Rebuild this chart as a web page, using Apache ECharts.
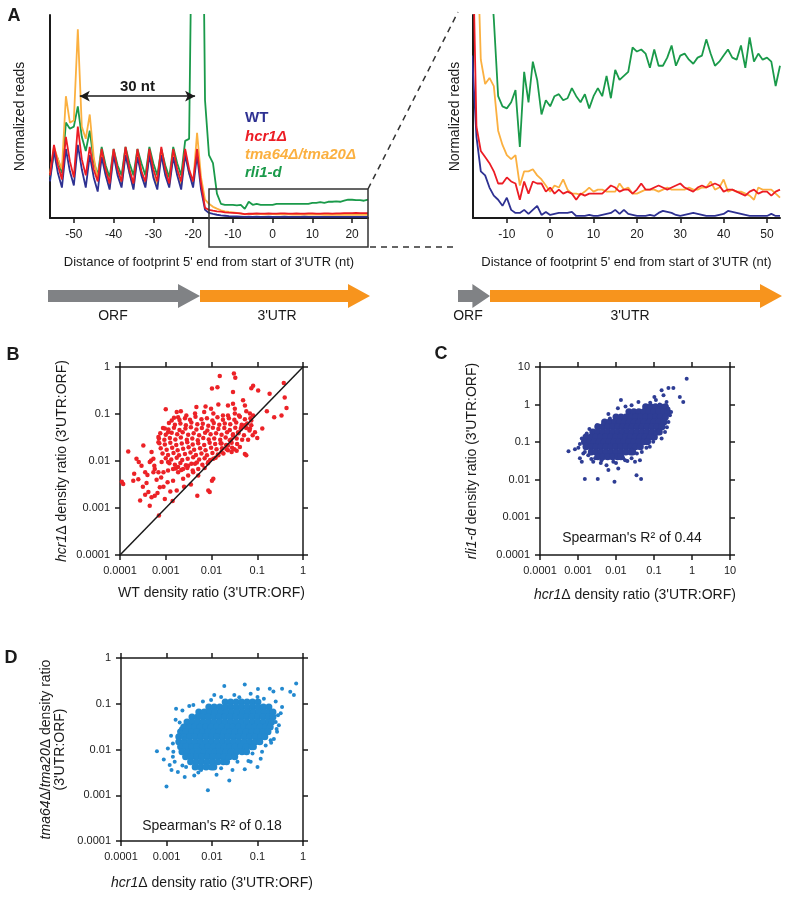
<!DOCTYPE html>
<html>
<head>
<meta charset="utf-8">
<script src="https://cdn.jsdelivr.net/npm/echarts@6.0.0/dist/echarts.min.js"></script>
<style>
  html, body { margin: 0; padding: 0; background: #fff; }
  #main { width: 800px; height: 900px; }
</style>
</head>
<body>
<div id="main"></div>
<script>
// ---------------- Panel A: footprint profiles (plot height = 0..100) ----------------
const ntLeft = []   // -56 .. 24
for (let i = -56; i <= 24; i++) ntLeft.push(i)
const ntRight = []  // -18 .. 53
for (let i = -18; i <= 53; i++) ntRight.push(i)

const ntTicksLeft = [-50, -40, -30, -20, -10, 0, 10, 20]
const ntTicksRight = [-10, 0, 10, 20, 30, 40, 50]

const wtLeft = [18,33,22,15,34,23,16,36,24,15, 31,20,13,30,21,14,31,21,15,31, 22,14,30,21,15,31,20,14,31,21,
  15,30,21,14,31,22,15,31,14,4, 2.5,2,1.6,1.3,1.1,0.9,0.8,0.8,0.7,0.6,
  0.7,0.6,0.7,0.6,0.6,0.7,0.6,0.6,0.6,0.7, 0.6,0.6,0.6,0.6,0.7,0.6,0.6,0.6,0.6,0.6,
  0.6,0.6,0.6,0.6,0.6,0.6,0.6,0.6,0.6,0.6, 0.6]
const hcr1Left = [21,36,26,19,40,28,20,45,29,21, 35,24,18,34,24,17,34,24,18,35, 24,17,34,23,18,34,24,18,35,24,
  17,34,24,18,34,24,18,34,17,5, 4,3.6,3.3,3.1,2.8,2.6,2.5,2.4,2.3,1.9,
  2.2,2.1,2.3,2.2,2.2,2.3,2.2,2.2,2.3,2.3, 2.2,2.2,2.3,2.2,2.2,2.3,2.3,2.2,2.2,2.3,
  2.3,2.2,2.3,2.3,2.4,2.4,2.4,2.5,2.4,2.4, 2.4]
const tmaLeft = [22,35,29,24,60,47,48,93,45,39, 51,30,19,33,22,15,33,22,16,32, 22,15,32,22,16,32,21,16,33,22,
  16,33,22,16,33,22,17,42,20,9, 7,5.5,4.6,3.8,3.3,3,2.8,2.5,2.2,1.8,
  2,1.9,2,1.9,1.8,1.9,1.9,1.8,1.8,1.8, 1.8,1.7,1.8,1.7,1.7,1.7,1.7,1.7,1.7,1.6,
  1.7,1.6,1.6,1.6,1.6,1.6,1.6,1.6,1.6,1.6, 1.6]
const rli1Left = [20,33,29,22,47,44,45,55,40,33, 43,28,21,35,26,20,34,26,21,35, 27,21,34,27,21,35,27,21,34,26,
  20,35,27,21,38,39,200,260,250,58, 31,27,12,7,6.5,6.5,6.5,6.2,6.5,4.5,
  8,6.5,7,6.5,6.5,6.5,6.5,7,7,7, 7,7,7,7,7,7,7.5,7.5,7.8,7.5,
  8,8,8.2,8,8.5,9,9,8.8,8.8,8.5, 9]

const wtRight = [80,40,23,21,15,11,9,6,10,4, 2.5,2.5,4,2,4,6,1.5,3,1.5,2, 2.5,2.5,2.5,3,1,1,1,1.5,1,1,
  1.5,2,2.5,4,2,4,2,1.5,1,1, 1,1.5,1,2.5,3.5,3,2.5,1.5,1,1.5, 2,2.5,2,1.5,1,1,1,1.5,2,3.5,
  3,2.5,2,1.5,1,1,1,1,1,2, 1,1]
const hcr1Right = [150,45,33,30,27,23,17,17,20,18, 17,9,18,12,18,17,17,13,15,12, 14,12,13,12,9,12,11,12,12,12,
  12,14,16,15,13,14,14,12,14,17, 14,14,15,16,15,14,15,16,17,15, 14,13,15,16,15,16,17,16,13,14,
  14,13,12,11,13,14,12,13,13,11, 13,14]
const tmaRight = [300,150,78,66,69,65,43,36,31,29, 31,16,23,23,24,21,19,16,13,16, 15,19,14,12,12,11.5,13,15,13,14,
  14,13,13,13,17,14,15,12,12,13, 14,14,14,13,14,15,14,14,14,14, 15,14,14,15,15,18,14,15,19,13,
  14,13,13,12,11,9,15,14,14,14, 12,10]
const rli1Right = [500,400,300,200,130,98,60,55,54,57, 63,35,72,57,77,68,51,58,55,60, 61,58,59,64,60,57,61,54,60,64,
  60,70,59,73,68,70,72,84,82,83, 81,74,83,75,75,79,85,75,80,81, 78,76,79,80,88,81,75,77,80,83,
  79,78,85,74,89,77,81,78,79,77, 65,75]

// ---------------- Panels B-D: density ratios, stored as log10 exponents ----------------
const decadeValues = [-4, -3, -2, -1, 0, 1]
const decadeLabels = ['0.0001', '0.001', '0.01', '0.1', '1', '10']

// B: WT (x) vs hcr1Δ (y)
const pointsB = [
  [-2.82,-1.08],[-2.70,-1.13],[-2.58,-1.09],[-2.47,-1.12],[-2.35,-1.06],[-2.22,-1.11],[-2.10,-1.09],[-1.98,-1.14],[-1.87,-1.07],[-1.75,-1.12],[-1.62,-1.09],[-1.50,-1.12],[-1.38,-1.06],[-1.27,-1.11],[-1.15,-1.09],
  [-2.93,-1.19],[-2.80,-1.23],[-2.68,-1.20],[-2.56,-1.24],[-2.44,-1.18],[-2.31,-1.22],[-2.19,-1.21],[-2.07,-1.25],[-1.95,-1.19],[-1.83,-1.23],[-1.71,-1.20],[-1.59,-1.22],[-1.46,-1.18],[-1.34,-1.23],[-1.22,-1.20],[-1.13,-1.24],
  [-3.06,-1.30],[-2.94,-1.33],[-2.82,-1.29],[-2.70,-1.34],[-2.57,-1.31],[-2.45,-1.28],[-2.33,-1.33],[-2.21,-1.30],[-2.09,-1.35],[-1.97,-1.29],[-1.85,-1.32],[-1.72,-1.30],[-1.60,-1.34],[-1.48,-1.29],[-1.36,-1.32],[-1.24,-1.30],[-1.17,-1.35],
  [-3.12,-1.41],[-3.00,-1.44],[-2.87,-1.40],[-2.75,-1.43],[-2.63,-1.39],[-2.51,-1.44],[-2.39,-1.41],[-2.27,-1.45],[-2.14,-1.40],[-2.02,-1.43],[-1.90,-1.41],[-1.78,-1.44],[-1.66,-1.39],[-1.53,-1.43],[-1.41,-1.41],[-1.29,-1.45],
  [-3.15,-1.52],[-3.03,-1.55],[-2.91,-1.51],[-2.79,-1.54],[-2.67,-1.50],[-2.54,-1.55],[-2.42,-1.52],[-2.30,-1.56],[-2.18,-1.51],[-2.06,-1.54],[-1.94,-1.52],[-1.81,-1.55],[-1.69,-1.50],[-1.57,-1.54],[-1.45,-1.52],[-1.33,-1.55],
  [-3.14,-1.62],[-3.02,-1.65],[-2.90,-1.61],[-2.77,-1.66],[-2.65,-1.63],[-2.53,-1.60],[-2.41,-1.65],[-2.29,-1.62],[-2.16,-1.66],[-2.04,-1.61],[-1.92,-1.64],[-1.80,-1.62],[-1.68,-1.66],[-1.56,-1.61],[-1.44,-1.64],
  [-3.11,-1.73],[-2.98,-1.76],[-2.86,-1.72],[-2.74,-1.77],[-2.62,-1.74],[-2.50,-1.71],[-2.38,-1.76],[-2.25,-1.73],[-2.13,-1.77],[-2.01,-1.72],[-1.89,-1.75],[-1.77,-1.73],[-1.64,-1.77],[-1.55,-1.72],
  [-3.07,-1.84],[-2.95,-1.87],[-2.83,-1.83],[-2.71,-1.88],[-2.58,-1.85],[-2.46,-1.82],[-2.34,-1.87],[-2.22,-1.84],[-2.10,-1.88],[-1.98,-1.83],[-1.86,-1.86],[-1.74,-1.84],
  [-3.00,-1.94],[-2.88,-1.97],[-2.76,-1.93],[-2.64,-1.98],[-2.52,-1.95],[-2.40,-1.92],[-2.27,-1.97],[-2.15,-1.94],[-2.03,-1.98],[-1.91,-1.93],
  [-2.92,-2.05],[-2.80,-2.08],[-2.68,-2.04],[-2.56,-2.09],[-2.44,-2.06],[-2.32,-2.03],[-2.20,-2.08],[-2.08,-2.05],
  [-2.78,-2.16],[-2.66,-2.19],[-2.53,-2.15],[-2.41,-2.20],[-2.29,-2.17],
  [-1.82,-0.19],[-1.51,-0.14],[-1.48,-0.23],[-1.99,-0.46],[-1.87,-0.43],[-1.53,-0.53],[-1.09,-0.40],[-1.13,-0.45],[-0.98,-0.50],[-0.42,-0.34],
  [-0.73,-0.57],[-0.40,-0.65],[-0.36,-0.87],[-0.47,-1.03],[-0.63,-1.07],[-0.79,-0.94],[-0.89,-1.31],[-1.00,-1.51],[-1.05,-1.39],[-1.16,-1.31],
  [-3.00,-0.90],[-2.67,-0.94],[-2.76,-0.96],[-2.33,-0.85],[-2.13,-0.84],[-2.01,-0.89],[-1.85,-0.80],[-1.64,-0.82],[-1.49,-0.89],[-1.31,-0.71],[-1.27,-0.82],[-1.53,-0.78],
  [-3.82,-1.80],[-3.96,-2.44],[-3.93,-2.49],[-3.49,-1.67],[-3.69,-2.27],[-3.71,-2.42],[-3.60,-2.39],[-3.45,-2.24],[-3.53,-2.10],[-3.59,-2.02],
  [-3.35,-2.02],[-3.32,-1.99],[-3.27,-1.95],[-3.42,-2.47],[-3.38,-2.66],[-3.45,-2.72],[-3.56,-2.84],[-3.35,-2.95],[-3.15,-3.16],[-3.24,-2.74],
  [-3.31,-2.77],[-3.18,-2.68],[-3.02,-2.81],[-3.13,-2.56],[-2.96,-2.45],[-2.76,-2.63],[-2.84,-2.42],[-2.73,-2.24],[-2.31,-2.74],[-2.07,-2.63],
  [-2.04,-2.66],[-1.99,-2.42],[-1.96,-2.38],[-2.29,-2.31],[-2.15,-2.15],[-2.40,-2.24],[-2.51,-2.31],[-2.62,-2.38],[-1.27,-1.85],[-1.24,-1.88],
  [-1.45,-1.78],[-1.56,-1.81],[-1.67,-1.75],[-1.78,-1.63],[-3.64,-1.95],[-3.31,-1.81],[-3.16,-1.60],[-3.16,-1.49],[-2.95,-1.39],[-3.02,-1.31],
  [-3.05,-2.24],[-3.16,-2.24],[-3.24,-2.17],[-3.27,-2.24],[-3.09,-2.02],[-2.95,-2.02],[-2.95,-2.20],[-2.84,-2.17],[-2.73,-2.13],[-2.62,-2.17],
  [-2.51,-2.10],[-2.36,-2.06],[-2.07,-2.02],[-1.96,-1.95],[-1.85,-1.88],[-1.78,-1.81],[-1.64,-1.67],[-1.60,-1.56],[-1.53,-1.46],[-1.42,-1.39],
  [-1.35,-1.28],[-1.27,-1.24],[-1.13,-1.14],[-1.09,-1.03],[-1.16,-0.99],[-1.24,-0.94],[-1.40,-1.03],[-1.49,-0.99],[-1.64,-1.03],[-1.75,-1.03],
  [-1.96,-0.99],[-2.16,-0.96],[-2.36,-0.99],[-2.55,-1.03],[-2.73,-1.07],[-2.87,-1.14],
  [-3.40,-2.30],[-3.20,-2.40],[-3.05,-2.55],[-2.90,-2.65],[-2.60,-2.55],[-2.45,-2.50],[-3.50,-2.55],[-2.85,-2.85],[-3.25,-2.10],[-3.10,-2.35],
  [-1.38,-1.70],[-1.50,-1.75],[-1.20,-1.55],[-1.10,-1.45]
]
const diagonalB = [[-4, -4], [0, 0]]

// C: hcr1Δ (x) vs rli1-d (y); dense core given as rows [y, [x...]]
const coreRowsC = [
  [-0.06, [-1.22,-1.09,-0.96,-0.83,-0.70]],
  [-0.19, [-1.66,-1.53,-1.40,-1.27,-1.14,-1.01,-0.88,-0.75,-0.64]],
  [-0.33, [-2.00,-1.87,-1.74,-1.61,-1.48,-1.35,-1.22,-1.09,-0.96,-0.83,-0.70]],
  [-0.46, [-2.30,-2.17,-2.04,-1.91,-1.78,-1.65,-1.52,-1.39,-1.26,-1.13,-1.00,-0.87,-0.74]],
  [-0.59, [-2.48,-2.35,-2.22,-2.09,-1.96,-1.83,-1.70,-1.57,-1.44,-1.31,-1.18,-1.05,-0.92,-0.79]],
  [-0.73, [-2.61,-2.48,-2.35,-2.22,-2.09,-1.96,-1.83,-1.70,-1.57,-1.44,-1.31,-1.18,-1.05,-0.92,-0.86]],
  [-0.86, [-2.79,-2.66,-2.53,-2.40,-2.27,-2.14,-2.01,-1.88,-1.75,-1.62,-1.49,-1.36,-1.23,-1.10,-0.99]],
  [-0.99, [-2.83,-2.70,-2.57,-2.44,-2.31,-2.18,-2.05,-1.92,-1.79,-1.66,-1.53,-1.40,-1.27,-1.17]],
  [-1.12, [-2.79,-2.66,-2.53,-2.40,-2.27,-2.14,-2.01,-1.88,-1.75,-1.62,-1.49,-1.36]],
  [-1.26, [-2.65,-2.52,-2.39,-2.26,-2.13,-2.00,-1.87,-1.74,-1.61,-1.56]],
  [-1.39, [-2.48,-2.35,-2.22,-2.09,-1.96,-1.87]]
]
const outerC = [
  [-0.14,0.69],[-0.62,0.44],[-0.49,0.44],[-0.80,0.38],[-0.75,0.25],[-0.99,0.20],[-0.32,0.20],[-0.23,0.07],[-0.67,0.07],[-0.62,-0.11],
  [-0.58,-0.28],[-0.62,-0.46],[-0.71,-0.73],[-0.97,-0.77],[-1.02,-0.99],[-1.11,-1.12],[-1.32,-1.26],[-1.37,-1.48],[-1.50,-1.52],[-1.87,0.12],
  [-1.59,-0.02],[-1.41,0.07],[-2.16,-0.37],[-2.33,-0.50],[-2.77,-0.77],[-3.25,-1.24],[-3.08,-1.19],[-2.99,-1.15],[-2.95,-1.43],[-2.90,-1.52],
  [-2.86,-1.30],[-2.60,-1.52],[-2.38,-1.48],[-2.25,-1.61],[-2.20,-1.74],[-2.07,-1.52],[-1.94,-1.70],[-1.76,-1.48],[-2.82,-1.98],[-2.48,-1.98],
  [-2.04,-2.05],[-1.46,-1.88],[-1.34,-1.98],[-1.59,-1.43],[-2.55,-1.43],[-2.73,-1.35],[-2.82,-1.26],[-1.81,-1.43],
  [-1.10,0.05],[-0.95,0.12],[-0.85,0.00],[-0.55,-0.20],[-0.66,-0.60],[-0.80,-0.90],[-1.20,-1.15],[-1.45,-1.30],[-1.70,-1.50],[-2.00,-1.55],
  [-2.40,-1.55],[-2.65,-1.45],[-2.95,-1.05],[-2.90,-0.90],[-2.70,-0.65],[-2.50,-0.55],[-2.20,-0.25],[-1.95,-0.10],[-1.75,-0.05]
]

// D: hcr1Δ (x) vs tma64Δ/tma20Δ (y)
const coreRowsD = [
  [-0.96, [-1.71,-1.59,-1.47,-1.35,-1.23,-1.11,-0.99]],
  [-1.07, [-2.07,-1.95,-1.83,-1.71,-1.59,-1.47,-1.35,-1.23,-1.11,-0.99,-0.87,-0.75]],
  [-1.18, [-2.29,-2.17,-2.05,-1.93,-1.81,-1.69,-1.57,-1.45,-1.33,-1.21,-1.09,-0.97,-0.85,-0.73,-0.66]],
  [-1.29, [-2.44,-2.32,-2.20,-2.08,-1.96,-1.84,-1.72,-1.60,-1.48,-1.36,-1.24,-1.12,-1.00,-0.88,-0.76,-0.66]],
  [-1.40, [-2.55,-2.43,-2.31,-2.19,-2.07,-1.95,-1.83,-1.71,-1.59,-1.47,-1.35,-1.23,-1.11,-0.99,-0.87,-0.75,-0.69]],
  [-1.51, [-2.62,-2.50,-2.38,-2.26,-2.14,-2.02,-1.90,-1.78,-1.66,-1.54,-1.42,-1.30,-1.18,-1.06,-0.94,-0.82,-0.72]],
  [-1.61, [-2.69,-2.57,-2.45,-2.33,-2.21,-2.09,-1.97,-1.85,-1.73,-1.61,-1.49,-1.37,-1.25,-1.13,-1.01,-0.89,-0.77]],
  [-1.72, [-2.73,-2.61,-2.49,-2.37,-2.25,-2.13,-2.01,-1.89,-1.77,-1.65,-1.53,-1.41,-1.29,-1.17,-1.05,-0.93,-0.84]],
  [-1.83, [-2.73,-2.61,-2.49,-2.37,-2.25,-2.13,-2.01,-1.89,-1.77,-1.65,-1.53,-1.41,-1.29,-1.17,-1.05,-0.95]],
  [-1.94, [-2.69,-2.57,-2.45,-2.33,-2.21,-2.09,-1.97,-1.85,-1.73,-1.61,-1.49,-1.37,-1.25,-1.13,-1.09]],
  [-2.05, [-2.66,-2.54,-2.42,-2.30,-2.18,-2.06,-1.94,-1.82,-1.70,-1.58,-1.46,-1.34,-1.24]],
  [-2.16, [-2.58,-2.46,-2.34,-2.22,-2.10,-1.98,-1.86,-1.74,-1.62,-1.50]],
  [-2.27, [-2.47,-2.35,-2.23,-2.11,-1.99,-1.87,-1.75,-1.68]],
  [-2.38, [-2.37,-2.25,-2.13,-2.01,-1.96]]
]
const outerD = [
  [-0.15,-0.56],[-0.28,-0.74],[-0.20,-0.81],[-0.46,-0.67],[-0.65,-0.73],[-0.73,-0.67],[-0.99,-0.68],[-1.28,-0.58],[-1.73,-0.61],[-2.02,-0.92],
  [-2.41,-1.03],[-2.79,-1.11],[-2.71,-1.41],[-2.68,-1.54],[-2.60,-1.76],[-2.86,-1.87],[-2.97,-1.98],[-3.21,-2.04],[-3.06,-2.22],[-2.93,-2.34],
  [-2.89,-2.45],[-2.75,-2.49],[-3.00,-2.81],[-2.60,-2.60],[-2.39,-2.57],[-2.09,-2.89],[-1.62,-2.68],[-1.28,-2.43],[-1.15,-2.27],[-0.93,-2.20],
  [-1.00,-2.38],[-0.71,-1.80],[-0.64,-1.77],[-0.57,-1.61],[-0.53,-1.47],[-0.49,-1.21],[-0.46,-1.07],[-2.86,-2.16],[-2.82,-2.27],[-2.57,-2.38],
  [-2.24,-2.45],[-1.80,-2.41],[-1.44,-2.27],[-1.11,-2.09],[-0.82,-1.91],[-0.60,-1.40],[-1.95,-0.81],[-1.51,-0.81],[-1.15,-0.78],[-0.86,-0.89],
  [-2.31,-1.29],
  [-2.50,-1.05],[-2.20,-0.95],[-1.80,-0.85],[-1.40,-0.86],[-1.00,-0.85],[-0.60,-0.95],[-0.55,-1.25],[-0.58,-1.55],[-0.70,-1.85],[-0.90,-2.05],
  [-1.20,-2.25],[-1.55,-2.45],[-1.90,-2.55],[-2.30,-2.50],[-2.65,-2.35],[-2.85,-2.05],[-2.90,-1.70],[-2.80,-1.35],[-2.65,-1.15]
]

// ---------------- helpers ----------------
const FONT = '"Liberation Sans", Arial, sans-serif'
const INK = '#1a1a1a'

const rowsToPoints = rows => rows.flatMap(([y, xs]) => xs.map(x => [x, y]))
const zip = (xs, ys) => xs.map((x, i) => [x, ys[i]])
const decadeText = v => decadeLabels[decadeValues.indexOf(Math.round(v))]

const titleStyle = {
  fontSize: 14, color: INK, fontFamily: FONT,
  rich: { i: { fontSize: 14, fontStyle: 'italic', color: INK, fontFamily: FONT } }
}

function profileX(gridIndex, min, max, ticks) {
  return {
    gridIndex, type: 'value', min, max,
    axisLine: { show: true, onZero: false, lineStyle: { color: INK, width: 2 } },
    axisTick: { show: true, length: 5, customValues: ticks, lineStyle: { color: INK, width: 1.5 } },
    axisLabel: { customValues: ticks, fontSize: 12, color: INK, margin: 11, fontFamily: FONT },
    splitLine: { show: false },
    name: 'Distance of footprint 5\' end from start of 3\'UTR (nt)',
    nameLocation: 'middle', nameGap: 38,
    nameTextStyle: { fontSize: 13, color: INK, fontFamily: FONT }
  }
}
function profileY(gridIndex, nameGap) {
  return {
    gridIndex, type: 'value', min: 0, max: 100,
    axisLine: { show: true, onZero: false, lineStyle: { color: INK, width: 2 } },
    axisTick: { show: false }, axisLabel: { show: false }, splitLine: { show: false },
    name: 'Normalized reads', nameLocation: 'middle', nameGap,
    nameTextStyle: { fontSize: 14, color: INK, fontFamily: FONT }
  }
}
function decadeAxis(gridIndex, position, min, max, name, nameGap) {
  return {
    gridIndex, position, type: 'value', min, max, interval: 1,
    axisLine: { show: true, onZero: false, lineStyle: { color: INK, width: 1.5 } },
    axisTick: { show: true, inside: false, length: 5, lineStyle: { color: INK, width: 1.5 } },
    axisLabel: { show: !!name, fontSize: 11, color: INK, margin: 10, fontFamily: FONT, formatter: decadeText },
    splitLine: { show: false },
    name: name || '', nameLocation: 'middle', nameGap: nameGap || 0, nameTextStyle: titleStyle
  }
}
function profileLine(name, xi, xs, ys, color) {
  return {
    name, type: 'line', xAxisIndex: xi, yAxisIndex: xi, data: zip(xs, ys),
    showSymbol: false, clip: true, lineStyle: { color, width: 1.8 }, itemStyle: { color }
  }
}
function scatter(idx, data, color, size) {
  return { type: 'scatter', xAxisIndex: idx, yAxisIndex: idx, data, symbolSize: size, itemStyle: { color, opacity: 1 } }
}

const colWT = '#2e3192', colHcr1 = '#ec1c24', colTma = '#fbb040', colRli1 = '#1a9a4a'
const colArrowGrey = '#808285', colArrowOrange = '#f7941d'

function txt(text, x, y, opts) {
  return {
    type: 'text', x, y, z: 100,
    style: Object.assign({ text, fill: INK, fontSize: 14, fontFamily: FONT, textAlign: 'center', textVerticalAlign: 'middle' }, opts || {})
  }
}
function arrow(x0, x1, color) {
  // horizontal block arrow with its tip at x1
  const head = Math.min(22, (x1 - x0) * 0.55)
  return {
    type: 'polygon', z: 10,
    shape: { points: [[x0, 290], [x1 - head, 290], [x1 - head, 284], [x1, 296], [x1 - head, 308], [x1 - head, 302], [x0, 302]] },
    style: { fill: color }
  }
}

const chart = echarts.init(document.getElementById('main'))
chart.setOption({
  animation: false,
  backgroundColor: '#fff',
  textStyle: { fontFamily: FONT },
  grid: [
    { left: 50, top: 15, width: 318, height: 203, outerBoundsMode: 'none' },
    { left: 473, top: 15, width: 307, height: 203, outerBoundsMode: 'none' },
    { left: 120, top: 367, width: 183, height: 188, outerBoundsMode: 'none' },
    { left: 540, top: 367, width: 190, height: 188, outerBoundsMode: 'none' },
    { left: 121, top: 658, width: 182, height: 183, outerBoundsMode: 'none' }
  ],
  xAxis: [
    profileX(0, -56, 24, ntTicksLeft),
    profileX(1, -17.8, 53, ntTicksRight),
    decadeAxis(2, 'bottom', -4, 0, 'WT density ratio (3\'UTR:ORF)', 31),
    decadeAxis(2, 'top', -4, 0),
    decadeAxis(3, 'bottom', -4, 1, '{i|hcr1}Δ density ratio (3\'UTR:ORF)', 33),
    decadeAxis(3, 'top', -4, 1),
    decadeAxis(4, 'bottom', -4, 0, '{i|hcr1}Δ density ratio (3\'UTR:ORF)', 35),
    decadeAxis(4, 'top', -4, 0)
  ],
  yAxis: [
    profileY(0, 23),
    profileY(1, 11),
    decadeAxis(2, 'left', -4, 0, '{i|hcr1}Δ density ratio (3\'UTR:ORF)', 51),
    decadeAxis(2, 'right', -4, 0),
    decadeAxis(3, 'left', -4, 1, '{i|rli1-d} density ratio (3\'UTR:ORF)', 61),
    decadeAxis(3, 'right', -4, 1),
    decadeAxis(4, 'left', -4, 0, '{i|tma64}Δ/{i|tma20}Δ density ratio\n(3\'UTR:ORF)', 54),
    decadeAxis(4, 'right', -4, 0)
  ],
  series: [
    profileLine('rli1-d', 0, ntLeft, rli1Left, colRli1),
    profileLine('tma64Δ/tma20Δ', 0, ntLeft, tmaLeft, colTma),
    profileLine('WT', 0, ntLeft, wtLeft, colWT),
    Object.assign(profileLine('hcr1Δ', 0, ntLeft, hcr1Left, colHcr1), {
      markLine: {
        silent: true, symbol: ['arrow', 'arrow'], symbolSize: [8, 10],
        lineStyle: { color: INK, width: 1.5, type: 'solid' },
        label: { show: true, formatter: '30 nt', position: 'insideMiddleTop', distance: 2, color: INK, fontSize: 15, fontWeight: 'bold', fontFamily: FONT },
        data: [[{ coord: [-48.5, 60] }, { coord: [-19.5, 60] }]]
      }
    }),
    profileLine('rli1-d', 1, ntRight, rli1Right, colRli1),
    profileLine('tma64Δ/tma20Δ', 1, ntRight, tmaRight, colTma),
    profileLine('WT', 1, ntRight, wtRight, colWT),
    profileLine('hcr1Δ', 1, ntRight, hcr1Right, colHcr1),

    scatter(2, pointsB, '#ec2227', 4.5),
    { type: 'line', xAxisIndex: 2, yAxisIndex: 2, data: diagonalB, showSymbol: false, lineStyle: { color: INK, width: 1.5 } },

    scatter(4, rowsToPoints(coreRowsC), '#2e3d94', 7),
    scatter(4, outerC, '#2e3d94', 4),

    scatter(6, rowsToPoints(coreRowsD), '#2389cf', 7),
    scatter(6, outerD, '#2389cf', 4)
  ],
  graphic: [
    txt('A', 14, 16, { fontSize: 18, fontWeight: 'bold' }),
    txt('B', 13, 355, { fontSize: 18, fontWeight: 'bold' }),
    txt('C', 441, 354, { fontSize: 18, fontWeight: 'bold' }),
    txt('D', 11, 658, { fontSize: 18, fontWeight: 'bold' }),

    txt('WT', 245, 118, { fill: colWT, fontSize: 15, fontWeight: 'bold', textAlign: 'left' }),
    txt('hcr1Δ', 245, 137, { fill: colHcr1, fontSize: 15, fontWeight: 'bold', fontStyle: 'italic', textAlign: 'left' }),
    txt('tma64Δ/tma20Δ', 245, 155, { fill: colTma, fontSize: 15, fontWeight: 'bold', fontStyle: 'italic', textAlign: 'left' }),
    txt('rli1-d', 245, 173, { fill: colRli1, fontSize: 15, fontWeight: 'bold', fontStyle: 'italic', textAlign: 'left' }),

    // zoom box and its guide lines
    { type: 'rect', z: 100, shape: { x: 209, y: 189, width: 159, height: 58 }, style: { fill: 'none', stroke: '#333', lineWidth: 1.5 } },
    { type: 'line', z: 100, shape: { x1: 368, y1: 189, x2: 458, y2: 12 }, style: { stroke: '#333', lineWidth: 1.5, lineDash: [6, 5] } },
    { type: 'line', z: 100, shape: { x1: 370, y1: 247, x2: 456, y2: 247 }, style: { stroke: '#333', lineWidth: 1.5, lineDash: [6, 5] } },

    // gene schematics
    arrow(48, 200, colArrowGrey),
    arrow(200, 370, colArrowOrange),
    arrow(458, 490, colArrowGrey),
    arrow(490, 782, colArrowOrange),
    txt('ORF', 113, 316),
    txt('3\'UTR', 277, 316),
    txt('ORF', 468, 316),
    txt('3\'UTR', 630, 316),

    txt('Spearman\'s R² of 0.44', 632, 538, { fontSize: 14 }),
    txt('Spearman\'s R² of 0.18', 212, 826, { fontSize: 14 })
  ]
})
</script>
</body>
</html>
